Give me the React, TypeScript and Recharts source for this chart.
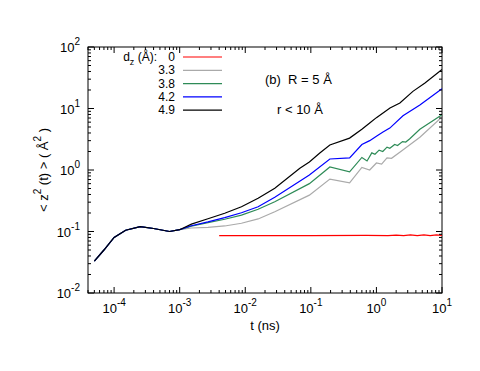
import { LineChart, Line, XAxis, YAxis } from 'recharts';

// axis ticks
const X_MAJOR = [1e-4, 1e-3, 1e-2, 1e-1, 1, 10];
const Y_MAJOR = [1e-2, 1e-1, 1, 10, 100];
const MINOR_STEPS = [2, 3, 4, 5, 6, 7, 8, 9];

// shared short-time part of every d_z > 0 curve
const early = [
  { t: 5e-5, y: 0.033 },
  { t: 7e-5, y: 0.05 },
  { t: 1e-4, y: 0.08 },
  { t: 1.5e-4, y: 0.105 },
  { t: 2.5e-4, y: 0.12 },
  { t: 4e-4, y: 0.112 },
  { t: 7e-4, y: 0.1 },
  { t: 1e-3, y: 0.107 },
];

const dz0 = [
  { t: 4e-3, y: 0.086 },
  { t: 0.1, y: 0.086 },
  { t: 0.7, y: 0.0865 },
  { t: 1.5, y: 0.0858 },
  { t: 2, y: 0.0875 },
  { t: 2.6, y: 0.0856 },
  { t: 3.3, y: 0.0878 },
  { t: 4.2, y: 0.0855 },
  { t: 5.3, y: 0.0878 },
  { t: 6.6, y: 0.0855 },
  { t: 8.2, y: 0.0878 },
  { t: 10, y: 0.0862 },
];

const dz33 = [
  ...early,
  { t: 1.51e-3, y: 0.114 },
  { t: 2.7e-3, y: 0.117 },
  { t: 4.86e-3, y: 0.123 },
  { t: 8.75e-3, y: 0.136 },
  { t: 0.0157, y: 0.16 },
  { t: 0.0282, y: 0.21 },
  { t: 0.095, y: 0.39 },
  { t: 0.195, y: 0.71 },
  { t: 0.39, y: 0.62 },
  { t: 0.6, y: 1.1 },
  { t: 0.79, y: 1.0 },
  { t: 1.0, y: 1.3 },
  { t: 1.2, y: 1.25 },
  { t: 1.45, y: 1.57 },
  { t: 1.7, y: 1.55 },
  { t: 2.5, y: 2.1 },
  { t: 4.6, y: 3.4 },
  { t: 10, y: 7.3 },
];

const dz38 = [
  ...early,
  { t: 1.51e-3, y: 0.122 },
  { t: 2.7e-3, y: 0.139 },
  { t: 4.86e-3, y: 0.158 },
  { t: 8.75e-3, y: 0.185 },
  { t: 0.0157, y: 0.23 },
  { t: 0.0282, y: 0.305 },
  { t: 0.095, y: 0.6 },
  { t: 0.195, y: 1.12 },
  { t: 0.39, y: 0.93 },
  { t: 0.6, y: 1.6 },
  { t: 0.72, y: 1.4 },
  { t: 0.85, y: 1.9 },
  { t: 0.95, y: 1.8 },
  { t: 1.1, y: 2.1 },
  { t: 1.25, y: 2.0 },
  { t: 1.45, y: 2.35 },
  { t: 1.6, y: 2.25 },
  { t: 1.9, y: 2.6 },
  { t: 2.1, y: 2.5 },
  { t: 2.5, y: 2.9 },
  { t: 2.8, y: 2.85 },
  { t: 3.2, y: 3.2 },
  { t: 4.6, y: 4.6 },
  { t: 10, y: 7.9 },
];

const dz42 = [
  ...early,
  { t: 1.51e-3, y: 0.124 },
  { t: 2.7e-3, y: 0.143 },
  { t: 4.86e-3, y: 0.168 },
  { t: 8.75e-3, y: 0.202 },
  { t: 0.0157, y: 0.253 },
  { t: 0.0282, y: 0.36 },
  { t: 0.095, y: 0.83 },
  { t: 0.195, y: 1.51 },
  { t: 0.39, y: 1.57 },
  { t: 0.6, y: 2.6 },
  { t: 0.79, y: 3.0 },
  { t: 1.0, y: 3.55 },
  { t: 1.26, y: 4.15 },
  { t: 1.6, y: 4.8 },
  { t: 2.54, y: 7.6 },
  { t: 4.6, y: 11.4 },
  { t: 10, y: 21 },
];

const dz49 = [
  ...early,
  { t: 1.51e-3, y: 0.132 },
  { t: 2.7e-3, y: 0.161 },
  { t: 4.86e-3, y: 0.198 },
  { t: 8.75e-3, y: 0.253 },
  { t: 0.0157, y: 0.347 },
  { t: 0.0282, y: 0.504 },
  { t: 0.068, y: 1.07 },
  { t: 0.095, y: 1.35 },
  { t: 0.137, y: 1.89 },
  { t: 0.195, y: 2.55 },
  { t: 0.39, y: 3.3 },
  { t: 0.6, y: 4.6 },
  { t: 0.79, y: 5.8 },
  { t: 1.0, y: 7.1 },
  { t: 1.61, y: 10.2 },
  { t: 2.28, y: 12.3 },
  { t: 3.6, y: 19 },
  { t: 5.5, y: 26 },
  { t: 10, y: 43 },
];

const SERIES = [
  { name: '0', data: dz0, color: '#ff0000' },
  { name: '3.3', data: dz33, color: '#aaaaaa' },
  { name: '3.8', data: dz38, color: '#2e8b57' },
  { name: '4.2', data: dz42, color: '#0000ff' },
  { name: '4.9', data: dz49, color: '#000000' },
];

const FONT = '"Liberation Sans", Arial, Helvetica, sans-serif';
const PLOT = { left: 80, right: 434, top: 39, bottom: 285 };

const withMinors = (majors: number[], lo: number) => {
  const out: number[] = [];
  const decades = [majors[0] / 10, ...majors];
  decades.forEach((d) => {
    if (d >= lo) out.push(d);
    if (d === majors[majors.length - 1]) return;
    MINOR_STEPS.forEach((m) => {
      const v = Number((m * d).toPrecision(3));
      if (v >= lo) out.push(v);
    });
  });
  return out;
};

const X_TICKS = withMinors(X_MAJOR, 4e-5);
const Y_TICKS = withMinors(Y_MAJOR, 1e-2);

const isMajor = (v: number) => Math.abs(Math.log10(v) - Math.round(Math.log10(v))) < 1e-6;

const Pow = ({ x, y, v, anchor }: { x: number; y: number; v: number; anchor: string }) => (
  <text x={x} y={y} textAnchor={anchor} fontFamily={FONT} fontSize={13} fill="#000">
    10
    <tspan dy={-7} fontSize={10}>
      {Math.round(Math.log10(v))}
    </tspan>
  </text>
);

const XTick = (props: any) => {
  const { x, payload } = props;
  const v = payload.value;
  const len = isMajor(v) ? 6 : 3;
  return (
    <g>
      <line x1={x} x2={x} y1={PLOT.bottom} y2={PLOT.bottom - len} stroke="#000" />
      <line x1={x} x2={x} y1={PLOT.top} y2={PLOT.top + len} stroke="#000" />
      {isMajor(v) && <Pow x={x} y={PLOT.bottom + 20} v={v} anchor="middle" />}
    </g>
  );
};

const YTick = (props: any) => {
  const { y, payload } = props;
  const v = payload.value;
  const len = isMajor(v) ? 6 : 3;
  return (
    <g>
      <line x1={PLOT.left} x2={PLOT.left + len} y1={y} y2={y} stroke="#000" />
      <line x1={PLOT.right} x2={PLOT.right - len} y1={y} y2={y} stroke="#000" />
      {isMajor(v) && <Pow x={PLOT.left - 8} y={y + 5} v={v} anchor="end" />}
    </g>
  );
};

export default function App() {
  return (
    <LineChart width={472} height={363} margin={{ top: 39, right: 38, bottom: 0, left: 0 }}>
      <XAxis
        dataKey="t"
        type="number"
        scale="log"
        domain={[4e-5, 10]}
        allowDataOverflow
        ticks={X_TICKS}
        interval={0}
        tick={<XTick />}
        tickLine={false}
        axisLine={false}
        height={78}
      />
      <YAxis
        dataKey="y"
        type="number"
        scale="log"
        domain={[0.01, 100]}
        allowDataOverflow
        ticks={Y_TICKS}
        interval={0}
        tick={<YTick />}
        tickLine={false}
        axisLine={false}
        width={80}
      />
      {SERIES.map((s) => (
        <Line
          key={s.name}
          data={s.data}
          dataKey="y"
          name={s.name}
          stroke={s.color}
          strokeWidth={1.2}
          dot={false}
          type="linear"
          isAnimationActive={false}
        />
      ))}
      <g fontFamily={FONT} fontSize={13} fill="#000">
        <rect
          x={PLOT.left}
          y={PLOT.top}
          width={PLOT.right - PLOT.left}
          height={PLOT.bottom - PLOT.top}
          fill="none"
          stroke="#000"
        />
        <text x={(PLOT.left + PLOT.right) / 2} y={322} textAnchor="middle">
          t (ns)
        </text>
        <text transform="translate(40,162) rotate(-90)" textAnchor="middle">
          {'< z'}
          <tspan dy={-7} fontSize={10}>2</tspan>
          <tspan dy={7}>{' (t) > ( Å'}</tspan>
          <tspan dy={-7} fontSize={10}>2</tspan>
          <tspan dy={7}>{' )'}</tspan>
        </text>
        <text x={149} y={53} textAnchor="end" fontSize={12}>
          {'d'}
          <tspan dy={4} fontSize={9}>z</tspan>
          <tspan dy={-4}>{' (Å):'}</tspan>
        </text>
        {SERIES.map((s, i) => (
          <g key={s.name}>
            <text x={167} y={53 + i * 13.3} textAnchor="end" fontSize={12}>
              {s.name}
            </text>
            <line x1={175} x2={214} y1={49 + i * 13.3} y2={49 + i * 13.3} stroke={s.color} strokeWidth={1.2} />
          </g>
        ))}
        <text x={257} y={76}>
          {'(b)\u00A0\u00A0R = 5 Å'}
        </text>
        <text x={269} y={106}>
          {'r < 10 Å'}
        </text>
      </g>
    </LineChart>
  );
}
